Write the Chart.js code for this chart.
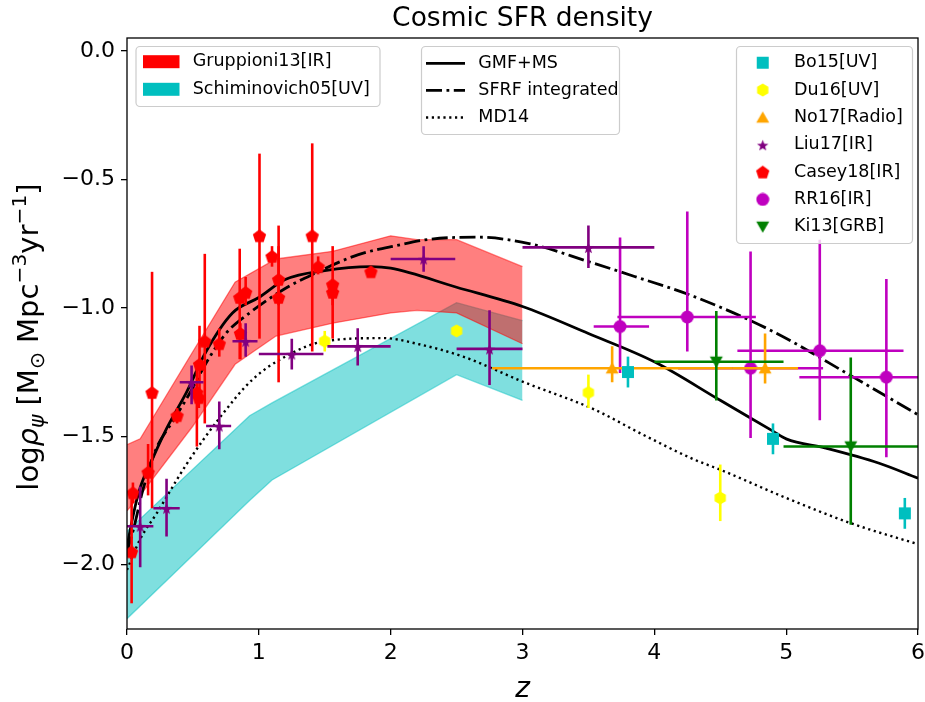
<!DOCTYPE html>
<html>
<head>
<meta charset="utf-8">
<title>Cosmic SFR density</title>
<script src="https://cdn.jsdelivr.net/npm/chart.js@4.4.0/dist/chart.umd.min.js"></script>
<style>
  html, body { margin: 0; padding: 0; background: #fff; }
  canvas { display: block; }
</style>
</head>
<body>
<canvas id="sfrChart" width="925" height="702"></canvas>
<script>
// axis ticks
const xTickVals = [0, 1, 2, 3, 4, 5, 6];
const yTickVals = [-2.0, -1.5, -1.0, -0.5, 0.0];

// bands
const grupZ = [0, 0.1, 0.5, 0.82, 1.13, 1.56, 2.0, 2.2, 2.5, 3.0];
const grupLo = [-1.79, -1.73, -1.46, -1.22, -1.11, -1.06, -1.02, -1.01, -1.02, -1.14];
const grupHi = [-1.533, -1.51, -1.17, -0.90, -0.81, -0.78, -0.72, -0.735, -0.735, -0.84];

const schiZ = [0, 0.93, 1.1, 2.5, 3.0];
const schiLo = [-2.21, -1.75, -1.67, -1.26, -1.36];
const schiHi = [-1.87, -1.42, -1.37, -0.98, -1.05];

// model curves
const gmfZ = [0, 0.05, 0.1, 0.2, 0.3, 0.45, 0.6, 0.8, 1.0, 1.2, 1.5, 1.85, 2.0, 2.5, 3.0, 3.5, 4.0, 4.5, 4.9, 5.0, 5.3, 5.7, 6.0];
const gmfRho = [-1.93, -1.80, -1.70, -1.58, -1.47, -1.33, -1.17, -1.02, -0.96, -0.89, -0.855, -0.84, -0.846, -0.92, -0.995, -1.10, -1.21, -1.36, -1.48, -1.51, -1.546, -1.604, -1.663];

const sfrfZ = [0, 0.05, 0.12, 0.22, 0.35, 0.49, 0.6, 0.75, 0.93, 1.2, 1.4, 1.75, 2.05, 2.3, 2.65, 3.05, 3.5, 3.85, 4.3, 4.9, 5.5, 6.0];
const sfrfRho = [-1.95, -1.86, -1.71, -1.55, -1.44, -1.32, -1.215, -1.10, -1.02, -0.925, -0.872, -0.794, -0.757, -0.733, -0.725, -0.75, -0.82, -0.878, -0.956, -1.092, -1.267, -1.416];

const md14Z = [0, 0.1, 0.225, 0.45, 0.7, 0.95, 1.2, 1.5, 1.95, 2.2, 2.55, 3.0, 3.55, 3.9, 4.3, 4.5, 5.0, 5.5, 6.0];
const md14Rho = [-2.02, -1.90, -1.80, -1.61, -1.43, -1.28, -1.19, -1.13, -1.118, -1.14, -1.19, -1.287, -1.397, -1.49, -1.59, -1.63, -1.74, -1.84, -1.92];

// observations
const bo15Z = [3.8, 4.9, 5.9];
const bo15Rho = [-1.25, -1.51, -1.80];
const bo15Err = [0.06, 0.06, 0.06];

const du16Z = [1.5, 2.5, 3.5, 4.5];
const du16Rho = [-1.13, -1.09, -1.33, -1.74];
const du16ErrLo = [0.04, 0.02, 0.06, 0.09];
const du16ErrHi = [0.04, 0.02, 0.07, 0.13];

const no17Z = [3.68, 4.84];
const no17Rho = [-1.235, -1.235];
const no17ZLo = [0.91, 0.25];
const no17ZHi = [0.91, 0.25];
const no17ErrLo = [0.055, 0.06];
const no17ErrHi = [0.085, 0.135];

const liu17Z = [0.1, 0.3, 0.49, 0.7, 0.9, 1.25, 1.75, 2.25, 2.75, 3.5];
const liu17Rho = [-1.85, -1.78, -1.29, -1.46, -1.13, -1.18, -1.15, -0.81, -1.16, -0.765];
const liu17ZLo = [0.1, 0.1, 0.09, 0.1, 0.1, 0.25, 0.23, 0.25, 0.25, 0.5];
const liu17ZHi = [0.1, 0.1, 0.09, 0.09, 0.09, 0.24, 0.25, 0.24, 0.25, 0.5];
const liu17ErrLo = [0.16, 0.11, 0.085, 0.09, 0.06, 0.06, 0.075, 0.05, 0.14, 0.08];
const liu17ErrHi = [0.155, 0.115, 0.065, 0.095, 0.07, 0.06, 0.07, 0.05, 0.15, 0.085];

const casey18Z = [0.035, 0.045, 0.16, 0.19, 0.38, 0.55, 0.53, 0.545, 0.59, 0.70, 0.86, 0.855, 0.90, 1.005, 1.10, 1.15, 1.15, 1.405, 1.45, 1.56, 1.56, 1.85];
const casey18Rho = [-1.95, -1.72, -1.64, -1.33, -1.42, -1.22, -1.33, -1.35, -1.13, -1.14, -1.10, -0.96, -0.94, -0.72, -0.80, -0.89, -0.96, -0.72, -0.84, -0.91, -0.94, -0.86];
const casey18ErrHi = [0.23, 0.04, 0.11, 0.47, 0.03, 0.15, 0.10, 0.04, 0.34, 0.06, 0.04, 0.19, 0.06, 0.32, 0.04, 0.21, 0.20, 0.36, 0.04, 0.15, 0.05, 0.02];
const casey18ErrLo = [0.20, 0.04, 0.09, 0.45, 0.03, 0.10, 0.21, 0.04, 0.32, 0.05, 0.10, 0.24, 0.05, 0.40, 0.04, 0.10, 0.33, 0.45, 0.03, 0.21, 0.05, 0.02];

const rr16Z = [3.74, 4.25, 4.73, 5.255, 5.76];
const rr16Rho = [-1.073, -1.036, -1.235, -1.167, -1.27];
const rr16ZLo = [0.20, 0.53, 0.55, 0.625, 0.66];
const rr16ZHi = [0.22, 0.52, 0.55, 0.635, 0.66];
const rr16ErrLo = [0.181, 0.134, 0.272, 0.271, 0.312];
const rr16ErrHi = [0.347, 0.411, 0.454, 0.432, 0.382];

const ki13Z = [4.47, 5.49];
const ki13Rho = [-1.21, -1.54];
const ki13ZLo = [0.47, 0.51];
const ki13ZHi = [0.51, 0.51];
const ki13ErrLo = [0.151, 0.304];
const ki13ErrHi = [0.198, 0.347];

const FONT = '"DejaVu Sans", "Liberation Sans", sans-serif';
Chart.defaults.font.family = FONT;
Chart.defaults.color = '#000';

function pts(xs, ys) {
  return xs.map((x, i) => ({ x: x, y: ys[i] }));
}

// little canvases used as marker symbols
function marker(shape, color, size) {
  const c = document.createElement('canvas');
  c.width = size;
  c.height = size;
  const g = c.getContext('2d');
  const cx = size / 2, cy = size / 2, r = size / 2 - 0.5;
  g.fillStyle = color;
  g.beginPath();
  if (shape === 'circle') {
    g.arc(cx, cy, r, 0, Math.PI * 2);
  } else if (shape === 'square') {
    g.rect(cx - r * 0.92, cy - r * 0.92, r * 1.84, r * 1.84);
  } else if (shape === 'star') {
    for (let k = 0; k < 10; k++) {
      const a = -Math.PI / 2 + k * Math.PI / 5;
      const rr = k % 2 ? r * 0.42 : r;
      const px = cx + rr * Math.cos(a), py = cy + 1 + rr * Math.sin(a);
      k ? g.lineTo(px, py) : g.moveTo(px, py);
    }
  } else {
    const n = { pentagon: 5, hexagon: 6, triUp: 3, triDown: 3 }[shape];
    const rot = shape === 'triDown' ? Math.PI / 2 : -Math.PI / 2;
    const dy = shape === 'triUp' ? r * 0.2 : shape === 'triDown' ? -r * 0.2 : (shape === 'pentagon' ? r * 0.08 : 0);
    for (let k = 0; k < n; k++) {
      const a = rot + k * 2 * Math.PI / n;
      const px = cx + r * Math.cos(a), py = cy + dy + r * Math.sin(a);
      k ? g.lineTo(px, py) : g.moveTo(px, py);
    }
  }
  g.closePath();
  g.fill();
  return c;
}

const mk = {
  bo15: marker('square', '#00bfbf', 14),
  du16: marker('hexagon', '#ffff00', 14),
  no17: marker('triUp', '#ffa500', 16),
  liu17: marker('star', '#800080', 13),
  casey18: marker('pentagon', '#ff0000', 15),
  rr16: marker('circle', '#bf00bf', 14),
  ki13: marker('triDown', '#008000', 16)
};

function pointSet(label, z, rho, style, color, err, order) {
  return {
    label: label,
    data: pts(z, rho),
    showLine: false,
    pointStyle: style,
    pointRadius: 6,
    pointHoverRadius: 6,
    borderColor: color,
    backgroundColor: color,
    errColor: color,
    errBars: err,
    order: order
  };
}

function curveSet(label, z, rho, dash, width) {
  return {
    label: label,
    data: pts(z, rho),
    showLine: true,
    pointRadius: 0,
    borderColor: '#000',
    borderWidth: width,
    borderDash: dash,
    borderCapStyle: 'butt',
    cubicInterpolationMode: 'monotone',
    fill: false,
    order: 10
  };
}

const datasets = [
  { label: 'schiLo', data: pts(schiZ, schiLo), showLine: true, pointRadius: 0, borderColor: 'rgba(0,191,191,0.5)', borderWidth: 1.3, fill: false, order: 21 },
  { label: 'Schiminovich05[UV]', data: pts(schiZ, schiHi), showLine: true, pointRadius: 0, borderColor: 'rgba(0,191,191,0.5)', borderWidth: 1.3, backgroundColor: 'rgba(0,191,191,0.5)', fill: 0, order: 20 },
  { label: 'grupLo', data: pts(grupZ, grupLo), showLine: true, pointRadius: 0, borderColor: 'rgba(255,0,0,0.5)', borderWidth: 1.3, fill: false, order: 19 },
  { label: 'Gruppioni13[IR]', data: pts(grupZ, grupHi), showLine: true, pointRadius: 0, borderColor: 'rgba(255,0,0,0.5)', borderWidth: 1.3, backgroundColor: 'rgba(255,0,0,0.5)', fill: 2, order: 18 },
  curveSet('GMF+MS', gmfZ, gmfRho, [], 2.8),
  curveSet('SFRF integrated', sfrfZ, sfrfRho, [16, 4.5, 2.8, 4.5], 2.8),
  curveSet('MD14', md14Z, md14Rho, [2.2, 3.6], 2.4),
  pointSet('Bo15[UV]', bo15Z, bo15Rho, mk.bo15, '#00bfbf', { yLo: bo15Err, yHi: bo15Err }, 3),
  pointSet('Du16[UV]', du16Z, du16Rho, mk.du16, '#ffff00', { yLo: du16ErrLo, yHi: du16ErrHi }, 3),
  pointSet('No17[Radio]', no17Z, no17Rho, mk.no17, '#ffa500', { yLo: no17ErrLo, yHi: no17ErrHi, xLo: no17ZLo, xHi: no17ZHi }, 4),
  pointSet('Liu17[IR]', liu17Z, liu17Rho, mk.liu17, '#800080', { yLo: liu17ErrLo, yHi: liu17ErrHi, xLo: liu17ZLo, xHi: liu17ZHi }, 2),
  pointSet('Casey18[IR]', casey18Z, casey18Rho, mk.casey18, '#ff0000', { yLo: casey18ErrLo, yHi: casey18ErrHi }, 3),
  pointSet('RR16[IR]', rr16Z, rr16Rho, mk.rr16, '#bf00bf', { yLo: rr16ErrLo, yHi: rr16ErrHi, xLo: rr16ZLo, xHi: rr16ZHi }, 4),
  pointSet('Ki13[GRB]', ki13Z, ki13Rho, mk.ki13, '#008000', { yLo: ki13ErrLo, yHi: ki13ErrHi, xLo: ki13ZLo, xHi: ki13ZHi }, 3)
];

// error bars are drawn right before each point set
const errorBars = {
  id: 'errorBars',
  beforeDatasetDraw(chart, args) {
    const ds = chart.data.datasets[args.index];
    if (!ds.errBars) return;
    const { ctx, chartArea: a } = chart;
    const xs = chart.scales.x, ys = chart.scales.y;
    const e = ds.errBars;
    ctx.save();
    ctx.beginPath();
    ctx.rect(a.left, a.top, a.right - a.left, a.bottom - a.top);
    ctx.clip();
    ctx.strokeStyle = ds.errColor;
    ctx.lineWidth = 2.6;
    ds.data.forEach((p, i) => {
      const px = xs.getPixelForValue(p.x), py = ys.getPixelForValue(p.y);
      ctx.beginPath();
      if (e.yLo) {
        ctx.moveTo(px, ys.getPixelForValue(p.y - e.yLo[i]));
        ctx.lineTo(px, ys.getPixelForValue(p.y + e.yHi[i]));
      }
      if (e.xLo) {
        ctx.moveTo(xs.getPixelForValue(p.x - e.xLo[i]), py);
        ctx.lineTo(xs.getPixelForValue(p.x + e.xHi[i]), py);
      }
      ctx.stroke();
    });
    ctx.restore();
  }
};

function legendBox(ctx, x0, y0, x1, y1) {
  ctx.save();
  ctx.fillStyle = 'rgba(255,255,255,0.8)';
  ctx.strokeStyle = '#cccccc';
  ctx.lineWidth = 1.2;
  ctx.beginPath();
  ctx.roundRect(x0, y0, x1 - x0, y1 - y0, 4);
  ctx.fill();
  ctx.stroke();
  ctx.restore();
}

function drawYLabel(ctx, cx, cy) {
  const F = 29;
  const n = F + 'px ' + FONT, it = 'oblique ' + F + 'px ' + FONT;
  const s = (F * 0.7) + 'px ' + FONT, si = 'oblique ' + (F * 0.7) + 'px ' + FONT;
  const parts = [
    { t: 'log', f: n, dy: 0 },
    { t: 'ρ', f: it, dy: 0 },
    { t: 'ψ', f: si, dy: F * 0.22 },
    { t: ' [M', f: n, dy: 0 },
    { t: '⊙', f: s, dy: F * 0.2 },
    { t: ' Mpc', f: n, dy: 0 },
    { t: '−3', f: s, dy: -F * 0.4 },
    { t: 'yr', f: n, dy: 0 },
    { t: '−1', f: s, dy: -F * 0.4 },
    { t: ']', f: n, dy: 0 }
  ];
  ctx.save();
  ctx.translate(cx, cy);
  ctx.rotate(-Math.PI / 2);
  ctx.textBaseline = 'alphabetic';
  ctx.textAlign = 'left';
  let total = 0;
  parts.forEach(p => { ctx.font = p.f; p.w = ctx.measureText(p.t).width; total += p.w; });
  let x = -total / 2;
  parts.forEach(p => { ctx.font = p.f; ctx.fillText(p.t, x, p.dy); x += p.w; });
  ctx.restore();
}

const decorations = {
  id: 'decorations',
  afterDatasetsDraw(chart) {
    const { ctx, chartArea: a } = chart;
    ctx.save();
    ctx.strokeStyle = '#000';
    ctx.lineWidth = 1.3;
    ctx.strokeRect(a.left, a.top, a.right - a.left, a.bottom - a.top);
    ctx.restore();
  },
  afterDraw(chart) {
    const ctx = chart.ctx;
    const a = chart.chartArea;
    const mid = (a.left + a.right) / 2;
    ctx.save();
    ctx.fillStyle = '#000';
    ctx.textAlign = 'center';
    ctx.textBaseline = 'alphabetic';
    ctx.font = '26.5px ' + FONT;
    ctx.fillText('Cosmic SFR density', mid, 26);
    ctx.font = 'oblique 28px ' + FONT;
    ctx.fillText('z', mid, 697);
    drawYLabel(ctx, 38, 337);

    ctx.font = '17.5px ' + FONT;
    ctx.textAlign = 'left';
    ctx.textBaseline = 'middle';
    const ds = chart.data.datasets;
    const byLabel = l => ds.find(d => d.label === l);

    // bands legend
    legendBox(ctx, 136, 46.5, 380, 106.5);
    [['Gruppioni13[IR]', '#ff0000'], ['Schiminovich05[UV]', '#00bfbf']].forEach((it, i) => {
      const y = 61.7 + i * 27.6;
      ctx.fillStyle = it[1];
      ctx.fillRect(143, y - 6.5, 36.5, 13);
      ctx.fillStyle = '#000';
      ctx.fillText(it[0], 192.7, y);
    });

    // curves legend
    legendBox(ctx, 421.5, 46.5, 619.5, 134.5);
    ['GMF+MS', 'SFRF integrated', 'MD14'].forEach((l, i) => {
      const d = byLabel(l);
      const y = 63.3 + i * 27.1;
      ctx.save();
      ctx.strokeStyle = '#000';
      ctx.lineWidth = d.borderWidth;
      ctx.setLineDash(d.borderDash);
      ctx.beginPath();
      ctx.moveTo(426, y);
      ctx.lineTo(465, y);
      ctx.stroke();
      ctx.restore();
      ctx.fillText(l, 478.3, y);
    });

    // observations legend
    legendBox(ctx, 736.5, 46.5, 912.5, 243.5);
    ['Bo15[UV]', 'Du16[UV]', 'No17[Radio]', 'Liu17[IR]', 'Casey18[IR]', 'RR16[IR]', 'Ki13[GRB]'].forEach((l, i) => {
      const d = byLabel(l);
      const y = 62.7 + i * 27.35;
      const img = d.pointStyle;
      ctx.drawImage(img, 762.7 - img.width / 2, y - img.height / 2);
      ctx.fillText(l, 794, y);
    });
    ctx.restore();
  }
};

new Chart(document.getElementById('sfrChart').getContext('2d'), {
  type: 'scatter',
  data: { datasets: datasets },
  options: {
    responsive: false,
    animation: false,
    devicePixelRatio: 1,
    layout: { padding: { top: 38, right: 5, left: 0, bottom: 0 } },
    plugins: {
      legend: { display: false },
      tooltip: { enabled: false },
      title: { display: false }
    },
    scales: {
      x: {
        type: 'linear',
        min: 0,
        max: 6,
        afterBuildTicks: s => { s.ticks = xTickVals.map(v => ({ value: v })); },
        afterFit: s => { s.height = 73; s.paddingLeft = 0; s.paddingRight = 0; },
        grid: { display: true, drawOnChartArea: false, drawTicks: true, tickLength: 6, color: '#000', lineWidth: 1.3 },
        border: { display: false },
        ticks: { font: { size: 22 }, color: '#000', padding: 5, maxRotation: 0, callback: v => String(v) }
      },
      y: {
        type: 'linear',
        min: -2.25,
        max: 0.05,
        afterBuildTicks: s => { s.ticks = yTickVals.map(v => ({ value: v })); },
        afterFit: s => { s.width = 127; s.paddingTop = 0; s.paddingBottom = 0; },
        grid: { display: true, drawOnChartArea: false, drawTicks: true, tickLength: 6, color: '#000', lineWidth: 1.3 },
        border: { display: false },
        ticks: { font: { size: 22 }, color: '#000', padding: 6, callback: v => (v < 0 ? '−' : '') + Math.abs(v).toFixed(1) }
      }
    }
  },
  plugins: [errorBars, decorations]
});
</script>
</body>
</html>
